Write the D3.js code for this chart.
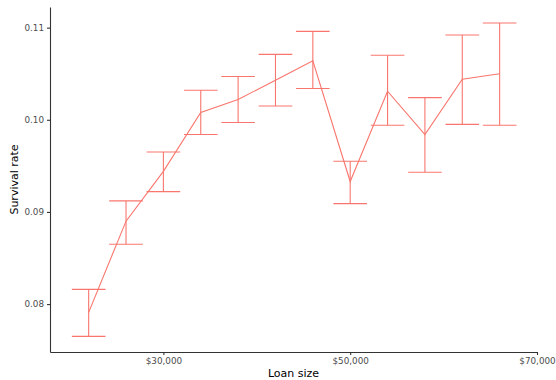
<!DOCTYPE html>
<html>
<head>
<meta charset="utf-8">
<script src="https://cdn.jsdelivr.net/npm/d3@7"></script>
<style>
  html, body { margin: 0; padding: 0; background: #fff; }
  svg { display: block; font-family: "DejaVu Sans", sans-serif; }
</style>
</head>
<body>
<svg id="chart" width="556" height="380"></svg>
<script>
// Loan size bins (USD) and survival rate with confidence bounds
const loanSize = [22000, 26000, 30000, 34000, 38000, 42000, 46000, 50000, 54000, 58000, 62000, 66000];
const survival = [0.0791, 0.0890, 0.0944, 0.1008, 0.1022, 0.1043, 0.1064, 0.0933, 0.1031, 0.0984, 0.1044, 0.1050];
const lower    = [0.0765, 0.0865, 0.0922, 0.0984, 0.0997, 0.1015, 0.1034, 0.0909, 0.0994, 0.0943, 0.0995, 0.0994];
const upper    = [0.0816, 0.0912, 0.0965, 0.1032, 0.1047, 0.1071, 0.1096, 0.0955, 0.1070, 0.1024, 0.1092, 0.1105];
const xTicks = [30000, 50000, 70000];
const yTicks = [0.08, 0.09, 0.10, 0.11];

const svg = d3.select("#chart");
const margin = { left: 50, right: 19, top: 7, bottom: 28 };
const W = 556, H = 380;

const x = d3.scaleLinear().domain([17860, 70000]).range([margin.left, W - margin.right]);
const y = d3.scaleLinear().domain([0.0748, 0.11224]).range([H - margin.bottom, margin.top]);

const color = "#F8766D";
const capHalf = (x(4000) - x(0)) * 0.45;

const rows = loanSize.map((v, i) => ({ x: v, y: survival[i], lo: lower[i], hi: upper[i] }));

// error bars
const eb = svg.append("g").attr("stroke", color).attr("stroke-width", 1.1).attr("fill", "none");
rows.forEach(d => {
  const cx = x(d.x);
  eb.append("line").attr("x1", cx).attr("x2", cx).attr("y1", y(d.lo)).attr("y2", y(d.hi));
  eb.append("line").attr("x1", cx - capHalf).attr("x2", cx + capHalf).attr("y1", y(d.hi)).attr("y2", y(d.hi));
  eb.append("line").attr("x1", cx - capHalf).attr("x2", cx + capHalf).attr("y1", y(d.lo)).attr("y2", y(d.lo));
});

// survival line
svg.append("path")
  .datum(rows)
  .attr("fill", "none")
  .attr("stroke", color)
  .attr("stroke-width", 1.1)
  .attr("d", d3.line().x(d => x(d.x)).y(d => y(d.y)));

// axes
const xAxis = svg.append("g")
  .attr("transform", `translate(0,${H - margin.bottom})`)
  .call(d3.axisBottom(x).tickValues(xTicks).tickSize(3).tickSizeOuter(0).tickPadding(3)
    .tickFormat(d => "$" + d3.format(",")(d)));
const yAxis = svg.append("g")
  .attr("transform", `translate(${margin.left},0)`)
  .call(d3.axisLeft(y).tickValues(yTicks).tickSize(3).tickSizeOuter(0).tickPadding(3)
    .tickFormat(d3.format(".2f")));

[xAxis, yAxis].forEach(g => {
  g.select(".domain").attr("stroke", "#333333").attr("stroke-width", 1.1);
  g.selectAll(".tick line").attr("stroke", "#333333").attr("stroke-width", 1.1);
  g.selectAll(".tick text").attr("fill", "#4D4D4D").style("font-size", "8.8px")
    .style("font-family", "DejaVu Sans, sans-serif");
});

// axis titles
svg.append("text")
  .attr("x", (margin.left + W - margin.right) / 2)
  .attr("y", 377)
  .attr("text-anchor", "middle")
  .style("font-size", "11px")
  .attr("fill", "#000")
  .text("Loan size");

svg.append("text")
  .attr("transform", `translate(18,${(margin.top + H - margin.bottom) / 2}) rotate(-90)`)
  .attr("text-anchor", "middle")
  .style("font-size", "11px")
  .attr("fill", "#000")
  .text("Survival rate");
</script>
</body>
</html>
